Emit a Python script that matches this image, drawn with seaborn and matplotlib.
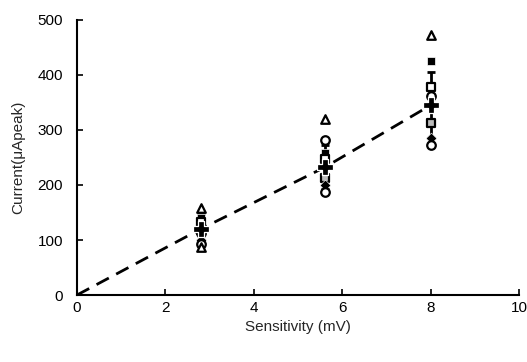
import matplotlib
matplotlib.use("Agg")
import matplotlib.pyplot as plt
import seaborn as sns
import pandas as pd
import numpy as np

sns.set_style("ticks")
plt.rcParams['font.family'] = ['Liberation Sans', 'DejaVu Sans']

sensitivity = [2.8, 5.6, 8.0]
tri_open = [158, 320, 472]
sq_filled = [140, 258, 425]
sq_open = [132, 248, 378]
circ_open = [112, 282, 362]
sq_gray = [118, 212, 312]
diamond_filled = [100, 200, 285]
circ_open2 = [92, 188, 272]
tri_low = [88]
mean_vals = [120, 232, 345]
sd_vals = [28, 40, 60]
fit_x = [0, 2.8, 5.6, 8.0]
fit_y = [0, 120, 232, 345]

fig = plt.figure(figsize=(5.27, 3.62), dpi=100)
ax = fig.add_axes([0.146, 0.185, 0.839, 0.760])

sns.lineplot(x=fit_x, y=fit_y, ax=ax, color='black', linewidth=2,
             linestyle=(0, (5, 3)), zorder=2)

ax.errorbar(sensitivity, mean_vals, yerr=sd_vals, fmt='none', ecolor='black',
            elinewidth=2, capsize=3, capthick=2, zorder=3)

style = dict(ax=ax, s=38, zorder=4, legend=False)
sns.scatterplot(x=sensitivity, y=tri_open, marker='^', facecolor='white', edgecolor='black', linewidth=1.6, **style)
sns.scatterplot(x=sensitivity, y=sq_filled, marker='s', color='black', **style)
sns.scatterplot(x=sensitivity, y=sq_open, marker='s', facecolor='white', edgecolor='black', linewidth=1.6, **style)
sns.scatterplot(x=sensitivity, y=circ_open, marker='o', facecolor='white', edgecolor='black', linewidth=1.6, **style)
sns.scatterplot(x=sensitivity, y=sq_gray, marker='s', facecolor='#bbbbbb', edgecolor='black', linewidth=1.6, **style)
sns.scatterplot(x=sensitivity, y=diamond_filled, marker='D', color='black', s=30, ax=ax, zorder=4, legend=False)
sns.scatterplot(x=sensitivity, y=circ_open2, marker='o', facecolor='white', edgecolor='black', linewidth=1.6, **style)
sns.scatterplot(x=sensitivity[:1], y=tri_low, marker='^', facecolor='white', edgecolor='black', linewidth=1.6, **style)
sns.scatterplot(x=sensitivity, y=mean_vals, marker='P', color='black', s=130, ax=ax, zorder=5, legend=False)

ax.set_xlim(0, 10)
ax.set_ylim(0, 500)
ax.set_xticks([0, 2, 4, 6, 8, 10])
ax.set_yticks([0, 100, 200, 300, 400, 500])
ax.tick_params(direction='in', length=4, width=1.2, labelsize=11, colors='black')
ax.tick_params(axis='x', pad=4)
ax.tick_params(axis='y', pad=10)
for sp in ['top', 'right']:
    ax.spines[sp].set_visible(False)
for sp in ['left', 'bottom']:
    ax.spines[sp].set_linewidth(1.5)
    ax.spines[sp].set_color('black')
ax.set_xlabel('Sensitivity (mV)', fontsize=11, labelpad=4)
ax.set_ylabel('Current(\u03bcApeak)', fontsize=11, labelpad=9)

fig.savefig('out.png', dpi=100)
